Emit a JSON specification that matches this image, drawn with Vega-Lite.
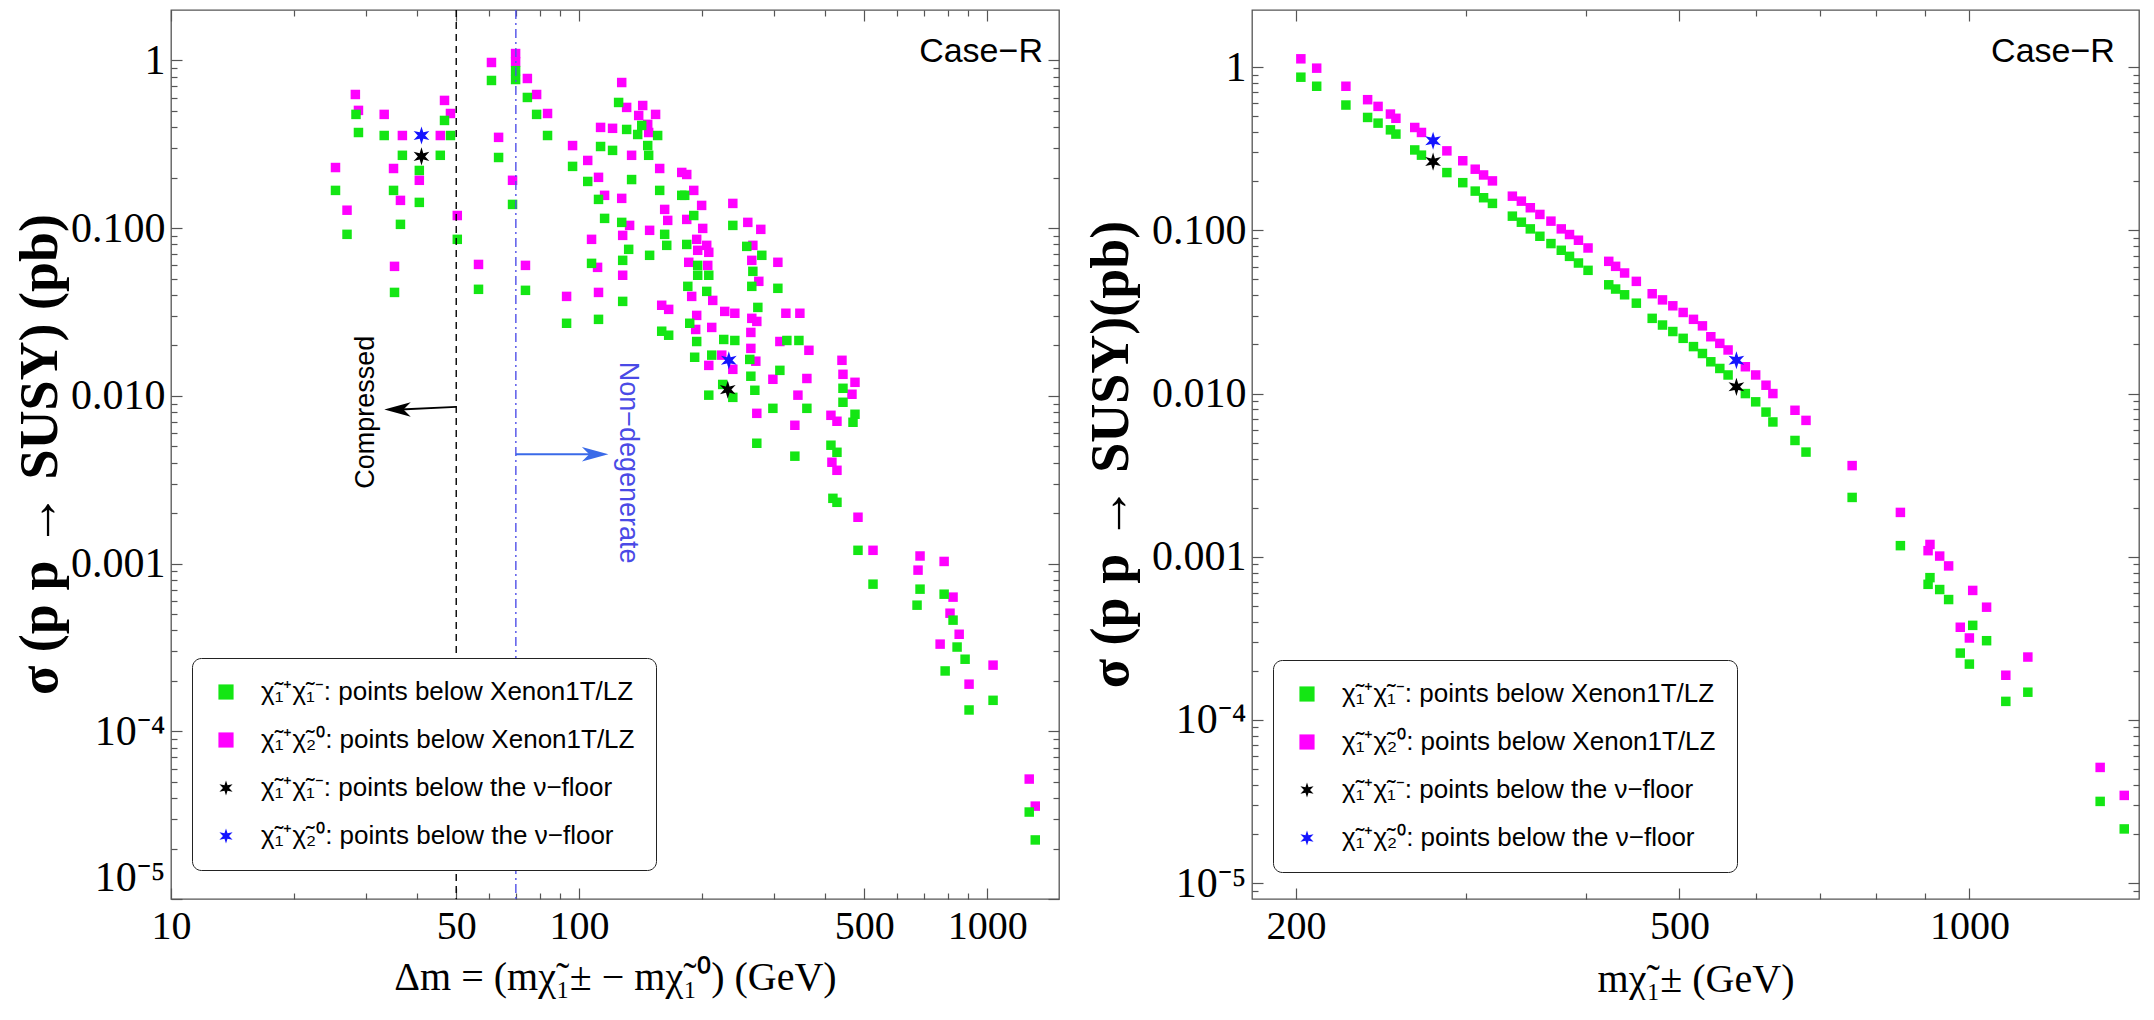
{
"$schema":"https://vega.github.io/schema/vega-lite/v6.json",
"background":"white",
"padding":{"left":12,"top":8,"right":10,"bottom":0},
"bounds":"flush",
"spacing":193,
"config":{
 "view":{"stroke":"#555555","strokeWidth":1.3},
 "axis":{"domain":false,"grid":false,"labelFont":"Liberation Serif","labelFontSize":42,"labelColor":"black","titleFont":"Liberation Serif","titleFontWeight":"normal","titleColor":"black","tickColor":"#555555","tickWidth":1.2,"labelFlush":false,"labelOverlap":false},
 "text":{"font":"Liberation Sans"}
},
"resolve":{"scale":{"x":"independent","y":"independent","color":"independent","shape":"independent","size":"independent"},"legend":{"color":"independent","shape":"independent"}},
"datasets":{
"left":[
{"dm":25.3,"sigma":0.230,"s":"m"},{"dm":27.0,"sigma":0.128,"s":"m"},{"dm":28.3,"sigma":0.627,"s":"m"},{"dm":28.8,"sigma":0.504,"s":"m"},{"dm":33.3,"sigma":0.477,"s":"m"},{"dm":35.1,"sigma":0.227,"s":"m"},{"dm":35.3,"sigma":0.0592,"s":"m"},{"dm":36.5,"sigma":0.1465,"s":"m"},{"dm":36.9,"sigma":0.357,"s":"m"},{"dm":40.6,"sigma":0.193,"s":"m"},{"dm":45.7,"sigma":0.357,"s":"m"},{"dm":46.8,"sigma":0.578,"s":"m"},{"dm":48.4,"sigma":0.483,"s":"m"},{"dm":50.3,"sigma":0.119,"s":"m"},{"dm":56.7,"sigma":0.0608,"s":"m"},{"dm":61.0,"sigma":0.973,"s":"m"},{"dm":63.5,"sigma":0.348,"s":"m"},{"dm":68.7,"sigma":0.193,"s":"m"},{"dm":69.9,"sigma":1.10,"s":"m"},{"dm":69.9,"sigma":0.98,"s":"m"},{"dm":73.9,"sigma":0.060,"s":"m"},{"dm":74.7,"sigma":0.781,"s":"m"},{"dm":78.7,"sigma":0.627,"s":"m"},{"dm":83.7,"sigma":0.483,"s":"m"},
{"dm":127.2,"sigma":0.739,"s":"m"},{"dm":130.8,"sigma":0.525,"s":"m"},{"dm":143.2,"sigma":0.539,"s":"m"},{"dm":140.0,"sigma":0.470,"s":"m"},{"dm":154.0,"sigma":0.477,"s":"m"},{"dm":147.3,"sigma":0.416,"s":"m"},{"dm":112.9,"sigma":0.399,"s":"m"},{"dm":120.8,"sigma":0.394,"s":"m"},{"dm":148.1,"sigma":0.372,"s":"m"},{"dm":96.4,"sigma":0.311,"s":"m"},{"dm":134.5,"sigma":0.272,"s":"m"},{"dm":105,"sigma":0.2535,"s":"m"},{"dm":111.6,"sigma":0.201,"s":"m"},{"dm":157.6,"sigma":0.227,"s":"m"},{"dm":178.5,"sigma":0.215,"s":"m"},{"dm":183.6,"sigma":0.209,"s":"m"},{"dm":191.0,"sigma":0.168,"s":"m"},{"dm":115.5,"sigma":0.157,"s":"m"},{"dm":127.2,"sigma":0.1506,"s":"m"},{"dm":162.1,"sigma":0.1294,"s":"m"},{"dm":199.7,"sigma":0.1367,"s":"m"},{"dm":238.1,"sigma":0.1405,"s":"m"},{"dm":164.9,"sigma":0.1113,"s":"m"},{"dm":183.6,"sigma":0.1128,"s":"m"},{"dm":133.0,"sigma":0.1039,"s":"m"},{"dm":200.9,"sigma":0.0997,"s":"m"},{"dm":259.1,"sigma":0.1083,"s":"m"},{"dm":278.8,"sigma":0.0984,"s":"m"},{"dm":107.3,"sigma":0.0858,"s":"m"},{"dm":127.9,"sigma":0.0906,"s":"m"},{"dm":148.9,"sigma":0.0971,"s":"m"},{"dm":194.2,"sigma":0.0858,"s":"m"},{"dm":205.5,"sigma":0.0790,"s":"m"},{"dm":195.3,"sigma":0.0738,"s":"m"},{"dm":207.9,"sigma":0.0718,"s":"m"},{"dm":266.6,"sigma":0.0790,"s":"m"},{"dm":185.7,"sigma":0.0626,"s":"m"},{"dm":206.7,"sigma":0.060,"s":"m"},{"dm":265.0,"sigma":0.0643,"s":"m"},{"dm":307.0,"sigma":0.0626,"s":"m"},{"dm":111.0,"sigma":0.0584,"s":"m"},{"dm":127.9,"sigma":0.0524,"s":"m"},{"dm":275.7,"sigma":0.0482,"s":"m"},{"dm":93.2,"sigma":0.0392,"s":"m"},{"dm":111.6,"sigma":0.0414,"s":"m"},{"dm":188.8,"sigma":0.0392,"s":"m"},{"dm":212.6,"sigma":0.0371,"s":"m"},{"dm":159.4,"sigma":0.0347,"s":"m"},{"dm":165.8,"sigma":0.0328,"s":"m"},{"dm":227.5,"sigma":0.0319,"s":"m"},{"dm":240.8,"sigma":0.0311,"s":"m"},{"dm":321.2,"sigma":0.0311,"s":"m"},{"dm":347.6,"sigma":0.0311,"s":"m"},{"dm":194.2,"sigma":0.0302,"s":"m"},{"dm":265.0,"sigma":0.029,"s":"m"},{"dm":272.6,"sigma":0.0278,"s":"m"},{"dm":211.4,"sigma":0.0256,"s":"m"},{"dm":193.1,"sigma":0.0249,"s":"m"},{"dm":263.6,"sigma":0.0239,"s":"m"},{"dm":310.5,"sigma":0.0211,"s":"m"},{"dm":263.6,"sigma":0.0192,"s":"m"},{"dm":365.8,"sigma":0.0187,"s":"m"},{"dm":223.7,"sigma":0.0175,"s":"m"},{"dm":271.1,"sigma":0.0161,"s":"m"},{"dm":440.8,"sigma":0.0163,"s":"m"},{"dm":207.9,"sigma":0.0152,"s":"m"},{"dm":238.1,"sigma":0.0144,"s":"m"},{"dm":443.3,"sigma":0.01345,"s":"m"},{"dm":298.5,"sigma":0.01256,"s":"m"},{"dm":361.6,"sigma":0.0127,"s":"m"},{"dm":474.4,"sigma":0.01205,"s":"m"},{"dm":343.8,"sigma":0.0101,"s":"m"},{"dm":466.4,"sigma":0.01023,"s":"m"},{"dm":272.6,"sigma":0.00787,"s":"m"},{"dm":414.2,"sigma":0.00766,"s":"m"},{"dm":428.5,"sigma":0.00706,"s":"m"},{"dm":337.9,"sigma":0.00668,"s":"m"},{"dm":416.5,"sigma":0.00402,"s":"m"},{"dm":428.5,"sigma":0.0036,"s":"m"},{"dm":482.5,"sigma":0.00189,"s":"m"},{"dm":525.2,"sigma":0.0012,"s":"m"},{"dm":684.8,"sigma":0.00111,"s":"m"},{"dm":677.1,"sigma":0.000914,"s":"m"},{"dm":784.5,"sigma":0.00103,"s":"m"},{"dm":825,"sigma":0.000631,"s":"m"},{"dm":811,"sigma":0.000506,"s":"m"},{"dm":854,"sigma":0.000379,"s":"m"},{"dm":767,"sigma":0.000331,"s":"m"},{"dm":903,"sigma":0.000191,"s":"m"},{"dm":1034,"sigma":0.000248,"s":"m"},{"dm":1268,"sigma":0.0000519,"s":"m"},{"dm":1312,"sigma":0.0000358,"s":"m"},
{"dm":25.3,"sigma":0.168,"s":"g"},{"dm":27.0,"sigma":0.0919,"s":"g"},{"dm":28.4,"sigma":0.477,"s":"g"},{"dm":28.8,"sigma":0.372,"s":"g"},{"dm":33.3,"sigma":0.357,"s":"g"},{"dm":35.1,"sigma":0.168,"s":"g"},{"dm":35.3,"sigma":0.0414,"s":"g"},{"dm":36.5,"sigma":0.1054,"s":"g"},{"dm":36.9,"sigma":0.272,"s":"g"},{"dm":40.6,"sigma":0.1425,"s":"g"},{"dm":40.6,"sigma":0.221,"s":"g"},{"dm":45.7,"sigma":0.272,"s":"g"},{"dm":46.8,"sigma":0.439,"s":"g"},{"dm":48.4,"sigma":0.357,"s":"g"},{"dm":50.3,"sigma":0.0858,"s":"g"},{"dm":56.7,"sigma":0.0432,"s":"g"},{"dm":61.0,"sigma":0.760,"s":"g"},{"dm":63.5,"sigma":0.264,"s":"g"},{"dm":68.7,"sigma":0.1386,"s":"g"},{"dm":69.9,"sigma":0.87,"s":"g"},{"dm":69.9,"sigma":0.77,"s":"g"},{"dm":73.9,"sigma":0.0426,"s":"g"},{"dm":74.7,"sigma":0.602,"s":"g"},{"dm":78.7,"sigma":0.477,"s":"g"},{"dm":83.7,"sigma":0.357,"s":"g"},
{"dm":125,"sigma":0.562,"s":"g"},{"dm":130.8,"sigma":0.388,"s":"g"},{"dm":139.2,"sigma":0.362,"s":"g"},{"dm":142.4,"sigma":0.410,"s":"g"},{"dm":155.8,"sigma":0.357,"s":"g"},{"dm":147.3,"sigma":0.311,"s":"g"},{"dm":148.1,"sigma":0.272,"s":"g"},{"dm":112.9,"sigma":0.307,"s":"g"},{"dm":120.8,"sigma":0.291,"s":"g"},{"dm":96.4,"sigma":0.2336,"s":"g"},{"dm":105,"sigma":0.190,"s":"g"},{"dm":134.5,"sigma":0.195,"s":"g"},{"dm":111.6,"sigma":0.1485,"s":"g"},{"dm":157.6,"sigma":0.168,"s":"g"},{"dm":178.5,"sigma":0.157,"s":"g"},{"dm":181.5,"sigma":0.157,"s":"g"},{"dm":115.5,"sigma":0.1144,"s":"g"},{"dm":127.2,"sigma":0.1083,"s":"g"},{"dm":162.1,"sigma":0.0919,"s":"g"},{"dm":191.0,"sigma":0.119,"s":"g"},{"dm":238.1,"sigma":0.1039,"s":"g"},{"dm":164.0,"sigma":0.079,"s":"g"},{"dm":183.6,"sigma":0.080,"s":"g"},{"dm":132.3,"sigma":0.0748,"s":"g"},{"dm":148.9,"sigma":0.0689,"s":"g"},{"dm":195.3,"sigma":0.060,"s":"g"},{"dm":195.3,"sigma":0.0524,"s":"g"},{"dm":207.9,"sigma":0.0524,"s":"g"},{"dm":257.6,"sigma":0.0779,"s":"g"},{"dm":280.4,"sigma":0.0689,"s":"g"},{"dm":107.3,"sigma":0.0617,"s":"g"},{"dm":127.9,"sigma":0.0643,"s":"g"},{"dm":266.6,"sigma":0.0553,"s":"g"},{"dm":184.7,"sigma":0.045,"s":"g"},{"dm":205.5,"sigma":0.042,"s":"g"},{"dm":265.0,"sigma":0.045,"s":"g"},{"dm":307.0,"sigma":0.0438,"s":"g"},{"dm":127.9,"sigma":0.0366,"s":"g"},{"dm":93.2,"sigma":0.0271,"s":"g"},{"dm":111.6,"sigma":0.0286,"s":"g"},{"dm":159.4,"sigma":0.0243,"s":"g"},{"dm":165.8,"sigma":0.023,"s":"g"},{"dm":186.7,"sigma":0.0271,"s":"g"},{"dm":194.2,"sigma":0.0211,"s":"g"},{"dm":226.2,"sigma":0.0217,"s":"g"},{"dm":240.8,"sigma":0.0214,"s":"g"},{"dm":274.2,"sigma":0.0337,"s":"g"},{"dm":323.0,"sigma":0.0214,"s":"g"},{"dm":345.7,"sigma":0.0214,"s":"g"},{"dm":192.0,"sigma":0.017,"s":"g"},{"dm":211.4,"sigma":0.0175,"s":"g"},{"dm":262.0,"sigma":0.0165,"s":"g"},{"dm":263.6,"sigma":0.0131,"s":"g"},{"dm":310.5,"sigma":0.0142,"s":"g"},{"dm":224.9,"sigma":0.0117,"s":"g"},{"dm":269.6,"sigma":0.0108,"s":"g"},{"dm":443.3,"sigma":0.0111,"s":"g"},{"dm":207.9,"sigma":0.0101,"s":"g"},{"dm":238.1,"sigma":0.0098,"s":"g"},{"dm":298.5,"sigma":0.00843,"s":"g"},{"dm":361.6,"sigma":0.00843,"s":"g"},{"dm":474.4,"sigma":0.00777,"s":"g"},{"dm":443.3,"sigma":0.00916,"s":"g"},{"dm":469.1,"sigma":0.00696,"s":"g"},{"dm":272.6,"sigma":0.00522,"s":"g"},{"dm":337.9,"sigma":0.00437,"s":"g"},{"dm":414.2,"sigma":0.00508,"s":"g"},{"dm":428.5,"sigma":0.00461,"s":"g"},{"dm":418.8,"sigma":0.00245,"s":"g"},{"dm":428.5,"sigma":0.00232,"s":"g"},{"dm":482.5,"sigma":0.0012,"s":"g"},{"dm":525.2,"sigma":0.000754,"s":"g"},{"dm":684.8,"sigma":0.000704,"s":"g"},{"dm":673.3,"sigma":0.000565,"s":"g"},{"dm":784.5,"sigma":0.000657,"s":"g"},{"dm":825,"sigma":0.00046,"s":"g"},{"dm":844,"sigma":0.000318,"s":"g"},{"dm":883,"sigma":0.000269,"s":"g"},{"dm":789,"sigma":0.000229,"s":"g"},{"dm":1034,"sigma":0.000153,"s":"g"},{"dm":903,"sigma":0.000134,"s":"g"},{"dm":1268,"sigma":0.000033,"s":"g"},{"dm":1312,"sigma":0.0000225,"s":"g"},
{"dm":41.1,"sigma":0.268,"s":"k"},{"dm":231.4,"sigma":0.0109,"s":"k"},{"dm":41.1,"sigma":0.357,"s":"b"},{"dm":232.8,"sigma":0.0163,"s":"b"}
],
"right":[
{"m":202.3,"sigma":1.125,"s":"m"},{"m":210.1,"sigma":0.986,"s":"m"},{"m":225.3,"sigma":0.764,"s":"m"},{"m":237.3,"sigma":0.632,"s":"m"},{"m":243.3,"sigma":0.575,"s":"m"},{"m":250.6,"sigma":0.516,"s":"m"},{"m":253.9,"sigma":0.486,"s":"m"},{"m":265.6,"sigma":0.427,"s":"m"},{"m":269.9,"sigma":0.398,"s":"m"},{"m":286.8,"sigma":0.307,"s":"m"},{"m":297.9,"sigma":0.267,"s":"m"},{"m":306.9,"sigma":0.237,"s":"m"},{"m":313.1,"sigma":0.2185,"s":"m"},{"m":319.8,"sigma":0.201,"s":"m"},{"m":335.4,"sigma":0.162,"s":"m"},{"m":342.7,"sigma":0.151,"s":"m"},{"m":350.1,"sigma":0.1376,"s":"m"},{"m":358.2,"sigma":0.1252,"s":"m"},{"m":367.8,"sigma":0.1139,"s":"m"},{"m":377.0,"sigma":0.1021,"s":"m"},{"m":384.5,"sigma":0.0943,"s":"m"},{"m":392.8,"sigma":0.0870,"s":"m"},{"m":401.9,"sigma":0.078,"s":"m"},{"m":422.3,"sigma":0.0646,"s":"m"},{"m":429.3,"sigma":0.0602,"s":"m"},{"m":438.6,"sigma":0.0548,"s":"m"},{"m":451.1,"sigma":0.0487,"s":"m"},{"m":468.5,"sigma":0.0409,"s":"m"},{"m":480.2,"sigma":0.0375,"s":"m"},{"m":492.2,"sigma":0.0345,"s":"m"},{"m":504.5,"sigma":0.0314,"s":"m"},{"m":517.1,"sigma":0.0285,"s":"m"},{"m":528.3,"sigma":0.026,"s":"m"},{"m":539.0,"sigma":0.0223,"s":"m"},{"m":550.7,"sigma":0.0203,"s":"m"},{"m":561.7,"sigma":0.0185,"s":"m"},{"m":585.4,"sigma":0.0146,"s":"m"},{"m":600.0,"sigma":0.013,"s":"m"},{"m":615.0,"sigma":0.01125,"s":"m"},{"m":625.2,"sigma":0.010,"s":"m"},{"m":659.1,"sigma":0.0079,"s":"m"},{"m":676.7,"sigma":0.00685,"s":"m"},{"m":755.6,"sigma":0.00362,"s":"m"},{"m":848.0,"sigma":0.00187,"s":"m"},{"m":910.1,"sigma":0.00119,"s":"m"},{"m":906,"sigma":0.00109,"s":"m"},{"m":931.5,"sigma":0.00101,"s":"m"},{"m":951.6,"sigma":0.000879,"s":"m"},{"m":1008,"sigma":0.000622,"s":"m"},{"m":1042,"sigma":0.000491,"s":"m"},{"m":978.5,"sigma":0.00037,"s":"m"},{"m":1000,"sigma":0.000318,"s":"m"},{"m":1150,"sigma":0.000243,"s":"m"},{"m":1091,"sigma":0.000188,"s":"m"},{"m":1367,"sigma":0.0000512,"s":"m"},{"m":1448,"sigma":0.0000345,"s":"m"},
{"m":202.3,"sigma":0.868,"s":"g"},{"m":210.1,"sigma":0.764,"s":"g"},{"m":225.3,"sigma":0.586,"s":"g"},{"m":237.3,"sigma":0.492,"s":"g"},{"m":243.3,"sigma":0.454,"s":"g"},{"m":250.6,"sigma":0.413,"s":"g"},{"m":253.9,"sigma":0.389,"s":"g"},{"m":265.6,"sigma":0.311,"s":"g"},{"m":269.9,"sigma":0.289,"s":"g"},{"m":286.8,"sigma":0.226,"s":"g"},{"m":297.9,"sigma":0.196,"s":"g"},{"m":306.9,"sigma":0.174,"s":"g"},{"m":313.1,"sigma":0.1585,"s":"g"},{"m":319.8,"sigma":0.1463,"s":"g"},{"m":335.4,"sigma":0.1222,"s":"g"},{"m":342.7,"sigma":0.1122,"s":"g"},{"m":350.1,"sigma":0.1021,"s":"g"},{"m":358.2,"sigma":0.092,"s":"g"},{"m":367.8,"sigma":0.083,"s":"g"},{"m":377.0,"sigma":0.0755,"s":"g"},{"m":384.5,"sigma":0.0693,"s":"g"},{"m":392.8,"sigma":0.0631,"s":"g"},{"m":401.9,"sigma":0.0569,"s":"g"},{"m":422.3,"sigma":0.0464,"s":"g"},{"m":429.3,"sigma":0.0437,"s":"g"},{"m":438.6,"sigma":0.0403,"s":"g"},{"m":451.1,"sigma":0.0358,"s":"g"},{"m":468.5,"sigma":0.0289,"s":"g"},{"m":480.2,"sigma":0.0263,"s":"g"},{"m":492.2,"sigma":0.024,"s":"g"},{"m":504.5,"sigma":0.0218,"s":"g"},{"m":517.1,"sigma":0.0194,"s":"g"},{"m":528.3,"sigma":0.0176,"s":"g"},{"m":539.0,"sigma":0.01566,"s":"g"},{"m":550.7,"sigma":0.01425,"s":"g"},{"m":561.7,"sigma":0.0130,"s":"g"},{"m":585.4,"sigma":0.010,"s":"g"},{"m":600.0,"sigma":0.0089,"s":"g"},{"m":615.0,"sigma":0.0077,"s":"g"},{"m":625.2,"sigma":0.0067,"s":"g"},{"m":659.1,"sigma":0.00516,"s":"g"},{"m":676.7,"sigma":0.00438,"s":"g"},{"m":755.6,"sigma":0.00231,"s":"g"},{"m":848.0,"sigma":0.00117,"s":"g"},{"m":910.1,"sigma":0.000745,"s":"g"},{"m":906,"sigma":0.000678,"s":"g"},{"m":931.5,"sigma":0.00063,"s":"g"},{"m":951.6,"sigma":0.000547,"s":"g"},{"m":1008,"sigma":0.00038,"s":"g"},{"m":1042,"sigma":0.000306,"s":"g"},{"m":978.5,"sigma":0.000257,"s":"g"},{"m":1000,"sigma":0.00022,"s":"g"},{"m":1150,"sigma":0.000148,"s":"g"},{"m":1091,"sigma":0.00013,"s":"g"},{"m":1367,"sigma":0.0000317,"s":"g"},{"m":1448,"sigma":0.0000215,"s":"g"},
{"m":277.5,"sigma":0.264,"s":"k"},{"m":573,"sigma":0.011,"s":"k"},{"m":277.5,"sigma":0.354,"s":"b"},{"m":573,"sigma":0.016,"s":"b"}
]
},
"hconcat":[
{
 "width":888,"height":889,
 "resolve":{"axis":{"x":"independent","y":"independent"}},
 "layer":[
  {"data":{"name":"left"},
   "mark":{"type":"point","filled":true,"opacity":1,"strokeWidth":0},
   "encoding":{
    "x":{"field":"dm","type":"quantitative","scale":{"type":"log","domain":[10,1500],"nice":false},
     "axis":{"orient":"bottom","values":[10,20,30,40,50,60,70,80,90,100,200,300,400,500,600,700,800,900,1000],"format":"d",
      "labelExpr":"(datum.value==10||datum.value==50||datum.value==100||datum.value==500||datum.value==1000) ? datum.label : ''",
      "tickSize":{"condition":{"test":"datum.value==10||datum.value==50||datum.value==100||datum.value==500||datum.value==1000","value":-11},"value":-6},
      "labelFontSize":40,"labelPadding":18,"title":"Δm = (mχ̃₁± − mχ̃₁⁰) (GeV)","titleFontSize":40,"titleY":90,"titleBaseline":"alphabetic"}},
    "y":{"field":"sigma","type":"quantitative","scale":{"type":"log","domain":[0.00001,2],"nice":false},
     "axis":{"orient":"left","values":[0.00001,0.00002,0.00003,0.00004,0.00005,0.00006,0.00007,0.00008,0.00009,0.0001,0.0002,0.0003,0.0004,0.0005,0.0006,0.0007,0.0008,0.0009,0.001,0.002,0.003,0.004,0.005,0.006,0.007,0.008,0.009,0.01,0.02,0.03,0.04,0.05,0.06,0.07,0.08,0.09,0.1,0.2,0.3,0.4,0.5,0.6,0.7,0.8,0.9,1],
      "labelExpr":"abs(log(datum.value)/LN10-round(log(datum.value)/LN10))<0.001 ? (datum.value>0.5?'1':datum.value>0.05?'0.100':datum.value>0.005?'0.010':datum.value>0.0005?'0.001':datum.value>0.00005?'10⁻⁴':'10⁻⁵') : ''",
      "labelBaseline":{"condition":{"test":"datum.value<0.000015","value":"bottom"},"value":"middle"},
      "tickSize":{"condition":{"test":"abs(log(datum.value)/LN10-round(log(datum.value)/LN10))<0.001","value":-11},"value":-6},
      "labelPadding":17,"title":"σ (p p → SUSY) (pb)","titleFontSize":54,"titleFontWeight":"bold","titleX":-131,"titleY":444,"titleBaseline":"middle","titleAngle":270}},
    "color":{"field":"s","type":"nominal","scale":{"domain":["g","m","k","b"],"range":["#14e614","#ff00ff","#000000","#1414ff"]},
     "legend":{"orient":"none","legendX":21,"legendY":648,"title":null,"strokeColor":"#222222","fillColor":"white","cornerRadius":9,"padding":21,"rowPadding":22,"labelFont":"Liberation Sans","labelFontSize":26,"labelColor":"black","symbolSize":230,"symbolStrokeWidth":0,"labelLimit":600,"labelOffset":22,
      "labelExpr":"datum.value=='g'?'χ̃₁⁺χ̃₁⁻: points below Xenon1T/LZ':datum.value=='m'?'χ̃₁⁺χ̃₂⁰: points below Xenon1T/LZ':datum.value=='k'?'χ̃₁⁺χ̃₁⁻: points below the ν−floor':'χ̃₁⁺χ̃₂⁰: points below the ν−floor'"}},
    "shape":{"field":"s","type":"nominal","scale":{"domain":["g","m","k","b"],"range":["square","square","M0,-1L0.2,-0.35L0.866,-0.5L0.4,0L0.866,0.5L0.2,0.35L0,1L-0.2,0.35L-0.866,0.5L-0.4,0L-0.866,-0.5L-0.2,-0.35Z","M0,-1L0.2,-0.35L0.866,-0.5L0.4,0L0.866,0.5L0.2,0.35L0,1L-0.2,0.35L-0.866,0.5L-0.4,0L-0.866,-0.5L-0.2,-0.35Z"]},
     "legend":{"orient":"none","legendX":21,"legendY":648,"title":null,"strokeColor":"#222222","fillColor":"white","cornerRadius":9,"padding":21,"rowPadding":22,"labelFont":"Liberation Sans","labelFontSize":26,"labelColor":"black","symbolSize":230,"symbolStrokeWidth":0,"labelLimit":600,"labelOffset":22,
      "labelExpr":"datum.value=='g'?'χ̃₁⁺χ̃₁⁻: points below Xenon1T/LZ':datum.value=='m'?'χ̃₁⁺χ̃₂⁰: points below Xenon1T/LZ':datum.value=='k'?'χ̃₁⁺χ̃₁⁻: points below the ν−floor':'χ̃₁⁺χ̃₂⁰: points below the ν−floor'"}},
    "size":{"condition":{"test":"datum.s=='k'||datum.s=='b'","value":330},"value":90}
   }},
  {"data":{"name":"left"},"mark":{"type":"point","opacity":0},
   "encoding":{
    "x":{"field":"dm","type":"quantitative","axis":{"orient":"top","values":[10,20,30,40,50,60,70,80,90,100,200,300,400,500,600,700,800,900,1000],"labels":false,"title":null,
      "tickSize":{"condition":{"test":"datum.value==10||datum.value==50||datum.value==100||datum.value==500||datum.value==1000","value":-11},"value":-6}}},
    "y":{"field":"sigma","type":"quantitative","axis":{"orient":"right","values":[0.00001,0.00002,0.00003,0.00004,0.00005,0.00006,0.00007,0.00008,0.00009,0.0001,0.0002,0.0003,0.0004,0.0005,0.0006,0.0007,0.0008,0.0009,0.001,0.002,0.003,0.004,0.005,0.006,0.007,0.008,0.009,0.01,0.02,0.03,0.04,0.05,0.06,0.07,0.08,0.09,0.1,0.2,0.3,0.4,0.5,0.6,0.7,0.8,0.9,1],"labels":false,"title":null,
      "tickSize":{"condition":{"test":"abs(log(datum.value)/LN10-round(log(datum.value)/LN10))<0.001","value":-11},"value":-6}}}
   }},
  {"data":{"values":[{}]},"mark":{"type":"rule","color":"black","strokeDash":[7,5],"strokeWidth":1.4},
   "encoding":{"x":{"datum":50,"type":"quantitative","axis":null}}},
  {"data":{"values":[{}]},"mark":{"type":"rule","color":"#5050e8","strokeDash":[9,4,2,4],"strokeWidth":1.4},
   "encoding":{"x":{"datum":70,"type":"quantitative","axis":null}}},
  {"data":{"values":[{}]},"mark":{"type":"rule","color":"black","strokeWidth":2},
   "encoding":{"x":{"datum":50,"type":"quantitative","axis":null},"x2":{"datum":36.5},"y":{"datum":0.0086,"type":"quantitative","axis":null},"y2":{"datum":0.0083}}},
  {"data":{"values":[{}]},"mark":{"type":"point","filled":true,"color":"black","opacity":1,"strokeWidth":0,"size":700,"shape":"M-1,0L1,-0.55L0.45,0L1,0.55Z"},
   "encoding":{"x":{"datum":35.9,"type":"quantitative","axis":null},"y":{"datum":0.0083,"type":"quantitative","axis":null}}},
  {"data":{"values":[{}]},"mark":{"type":"rule","color":"#3a6ae8","strokeWidth":2},
   "encoding":{"x":{"datum":70,"type":"quantitative","axis":null},"x2":{"datum":106},"y":{"datum":0.00449,"type":"quantitative","axis":null}}},
  {"data":{"values":[{}]},"mark":{"type":"point","filled":true,"color":"#3a6ae8","opacity":1,"strokeWidth":0,"size":700,"shape":"M1,0L-1,-0.55L-0.45,0L-1,0.55Z"},
   "encoding":{"x":{"datum":109.5,"type":"quantitative","axis":null},"y":{"datum":0.00449,"type":"quantitative","axis":null}}},
  {"data":{"values":[{}]},"mark":{"type":"text","text":"Compressed","angle":270,"fontSize":27,"font":"Liberation Sans","color":"black","align":"center","baseline":"middle"},
   "encoding":{"x":{"datum":30.1,"type":"quantitative","axis":null},"y":{"datum":0.008,"type":"quantitative","axis":null}}},
  {"data":{"values":[{}]},"mark":{"type":"text","text":"Non−degenerate","angle":90,"fontSize":27,"font":"Liberation Sans","color":"#4a4ae6","align":"center","baseline":"middle"},
   "encoding":{"x":{"datum":131.5,"type":"quantitative","axis":null},"y":{"datum":0.004,"type":"quantitative","axis":null}}},
  {"data":{"values":[{}]},"mark":{"type":"text","text":"Case−R","fontSize":34,"font":"Liberation Sans","color":"black","align":"right","baseline":"alphabetic"},
   "encoding":{"x":{"datum":1370,"type":"quantitative","axis":null},"y":{"datum":0.986,"type":"quantitative","axis":null}}}
 ]
},
{
 "width":887,"height":889,
 "resolve":{"axis":{"x":"independent","y":"independent"}},
 "layer":[
  {"data":{"name":"right"},
   "mark":{"type":"point","filled":true,"opacity":1,"strokeWidth":0},
   "encoding":{
    "x":{"field":"m","type":"quantitative","scale":{"type":"log","domain":[180,1500],"nice":false},
     "axis":{"orient":"bottom","values":[200,300,400,500,600,700,800,900,1000],"format":"d",
      "labelExpr":"(datum.value==200||datum.value==500||datum.value==1000) ? datum.label : ''",
      "tickSize":{"condition":{"test":"datum.value==200||datum.value==500||datum.value==1000","value":-11},"value":-6},
      "labelFontSize":40,"labelPadding":18,"title":"mχ̃₁± (GeV)","titleFontSize":40,"titleY":92,"titleBaseline":"alphabetic"}},
    "y":{"field":"sigma","type":"quantitative","scale":{"type":"log","domain":[0.000008,2.24],"nice":false},
     "axis":{"orient":"left","values":[0.000009,0.00001,0.00002,0.00003,0.00004,0.00005,0.00006,0.00007,0.00008,0.00009,0.0001,0.0002,0.0003,0.0004,0.0005,0.0006,0.0007,0.0008,0.0009,0.001,0.002,0.003,0.004,0.005,0.006,0.007,0.008,0.009,0.01,0.02,0.03,0.04,0.05,0.06,0.07,0.08,0.09,0.1,0.2,0.3,0.4,0.5,0.6,0.7,0.8,0.9,1],
      "labelExpr":"abs(log(datum.value)/LN10-round(log(datum.value)/LN10))<0.001 ? (datum.value>0.5?'1':datum.value>0.05?'0.100':datum.value>0.005?'0.010':datum.value>0.0005?'0.001':datum.value>0.00005?'10⁻⁴':'10⁻⁵') : ''",
      "tickSize":{"condition":{"test":"abs(log(datum.value)/LN10-round(log(datum.value)/LN10))<0.001","value":-11},"value":-6},
      "labelPadding":17,"title":"σ (p p → SUSY)(pb)","titleFontSize":54,"titleFontWeight":"bold","titleX":-141,"titleY":444,"titleBaseline":"middle","titleAngle":270}},
    "color":{"field":"s","type":"nominal","scale":{"domain":["g","m","k","b"],"range":["#14e614","#ff00ff","#000000","#1414ff"]},
     "legend":{"orient":"none","legendX":21,"legendY":650,"title":null,"strokeColor":"#222222","fillColor":"white","cornerRadius":9,"padding":21,"rowPadding":22,"labelFont":"Liberation Sans","labelFontSize":26,"labelColor":"black","symbolSize":230,"symbolStrokeWidth":0,"labelLimit":600,"labelOffset":22,
      "labelExpr":"datum.value=='g'?'χ̃₁⁺χ̃₁⁻: points below Xenon1T/LZ':datum.value=='m'?'χ̃₁⁺χ̃₂⁰: points below Xenon1T/LZ':datum.value=='k'?'χ̃₁⁺χ̃₁⁻: points below the ν−floor':'χ̃₁⁺χ̃₂⁰: points below the ν−floor'"}},
    "shape":{"field":"s","type":"nominal","scale":{"domain":["g","m","k","b"],"range":["square","square","M0,-1L0.2,-0.35L0.866,-0.5L0.4,0L0.866,0.5L0.2,0.35L0,1L-0.2,0.35L-0.866,0.5L-0.4,0L-0.866,-0.5L-0.2,-0.35Z","M0,-1L0.2,-0.35L0.866,-0.5L0.4,0L0.866,0.5L0.2,0.35L0,1L-0.2,0.35L-0.866,0.5L-0.4,0L-0.866,-0.5L-0.2,-0.35Z"]},
     "legend":{"orient":"none","legendX":21,"legendY":650,"title":null,"strokeColor":"#222222","fillColor":"white","cornerRadius":9,"padding":21,"rowPadding":22,"labelFont":"Liberation Sans","labelFontSize":26,"labelColor":"black","symbolSize":230,"symbolStrokeWidth":0,"labelLimit":600,"labelOffset":22,
      "labelExpr":"datum.value=='g'?'χ̃₁⁺χ̃₁⁻: points below Xenon1T/LZ':datum.value=='m'?'χ̃₁⁺χ̃₂⁰: points below Xenon1T/LZ':datum.value=='k'?'χ̃₁⁺χ̃₁⁻: points below the ν−floor':'χ̃₁⁺χ̃₂⁰: points below the ν−floor'"}},
    "size":{"condition":{"test":"datum.s=='k'||datum.s=='b'","value":330},"value":90}
   }},
  {"data":{"name":"right"},"mark":{"type":"point","opacity":0},
   "encoding":{
    "x":{"field":"m","type":"quantitative","axis":{"orient":"top","values":[200,300,400,500,600,700,800,900,1000],"labels":false,"title":null,
      "tickSize":{"condition":{"test":"datum.value==200||datum.value==500||datum.value==1000","value":-11},"value":-6}}},
    "y":{"field":"sigma","type":"quantitative","axis":{"orient":"right","values":[0.000009,0.00001,0.00002,0.00003,0.00004,0.00005,0.00006,0.00007,0.00008,0.00009,0.0001,0.0002,0.0003,0.0004,0.0005,0.0006,0.0007,0.0008,0.0009,0.001,0.002,0.003,0.004,0.005,0.006,0.007,0.008,0.009,0.01,0.02,0.03,0.04,0.05,0.06,0.07,0.08,0.09,0.1,0.2,0.3,0.4,0.5,0.6,0.7,0.8,0.9,1],"labels":false,"title":null,
      "tickSize":{"condition":{"test":"abs(log(datum.value)/LN10-round(log(datum.value)/LN10))<0.001","value":-11},"value":-6}}}
   }},
  {"data":{"values":[{}]},"mark":{"type":"text","text":"Case−R","fontSize":34,"font":"Liberation Sans","color":"black","align":"right","baseline":"alphabetic"},
   "encoding":{"x":{"datum":1416,"type":"quantitative","axis":null},"y":{"datum":1.07,"type":"quantitative","axis":null}}}
 ]
}
]
}
